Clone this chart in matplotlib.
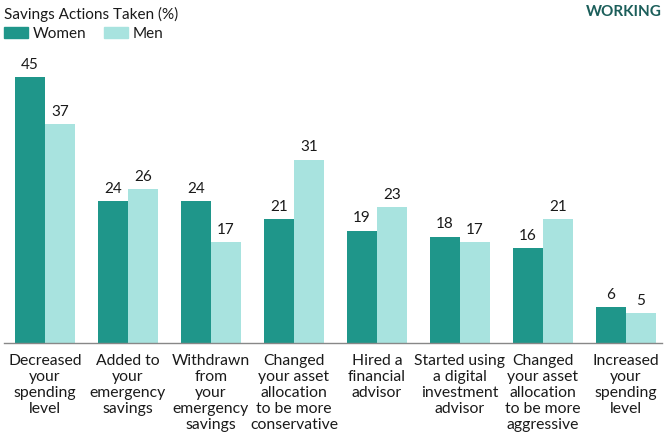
import matplotlib
matplotlib.use("Agg")
import matplotlib.pyplot as plt
import numpy as np
from matplotlib.patches import Rectangle

categories = [
    "Decreased\nyour\nspending\nlevel",
    "Added to\nyour\nemergency\nsavings",
    "Withdrawn\nfrom\nyour\nemergency\nsavings",
    "Changed\nyour asset\nallocation\nto be more\nconservative",
    "Hired a\nfinancial\nadvisor",
    "Started using\na digital\ninvestment\nadvisor",
    "Changed\nyour asset\nallocation\nto be more\naggressive",
    "Increased\nyour\nspending\nlevel",
]
women = [45, 24, 24, 21, 19, 18, 16, 6]
men = [37, 26, 17, 31, 23, 17, 21, 5]

WOMEN_C = "#1f968a"
MEN_C = "#a8e3df"
TEXT_C = "#1a1a1a"

plt.rcParams['font.family'] = ['Lato', 'DejaVu Sans']

fig = plt.figure(figsize=(6.67, 4.38), dpi=100)
ax = fig.add_axes([0.006, 0.217, 0.9865, 0.6476])

x = np.arange(len(categories))
w = 0.36
ax.bar(x - w/2, women, width=w, color=WOMEN_C)
ax.bar(x + w/2, men, width=w, color=MEN_C)

for xi, v in zip(x, women):
    ax.text(xi - w/2, v + 0.9, str(v), ha='center', va='bottom', fontsize=11, color=TEXT_C)
for xi, v in zip(x, men):
    ax.text(xi + w/2, v + 0.9, str(v), ha='center', va='bottom', fontsize=11, color=TEXT_C)

ax.set_xlim(-0.494, 7.434)
ax.set_ylim(0, 48)
ax.set_yticks([])
ax.set_xticks(x)
ax.set_xticklabels(categories, fontsize=11.3, color=TEXT_C, linespacing=1.17)
ax.tick_params(axis='x', length=0, pad=8)
for s in ['top', 'right', 'left']:
    ax.spines[s].set_visible(False)
ax.spines['bottom'].set_color('#888888')
ax.spines['bottom'].set_linewidth(1.0)

fig.text(0.006, 0.968, "Savings Actions Taken (%)", ha='left', va='center', fontsize=11, color=TEXT_C)
fig.text(0.9925, 0.972, "WORKING", ha='right', va='center', fontsize=11, fontweight='bold',
         color='#1b5e5a')

# legend
fig.patches.append(Rectangle((4/667, 1-38/438), 24/667, 11/438, transform=fig.transFigure,
                             color=WOMEN_C))
fig.text(33/667, 1-33.5/438, "Women", ha='left', va='center', fontsize=11, color=TEXT_C)
fig.patches.append(Rectangle((104/667, 1-38/438), 24/667, 11/438, transform=fig.transFigure,
                             color=MEN_C))
fig.text(133/667, 1-33.5/438, "Men", ha='left', va='center', fontsize=11, color=TEXT_C)

fig.savefig("out.png", dpi=100)
